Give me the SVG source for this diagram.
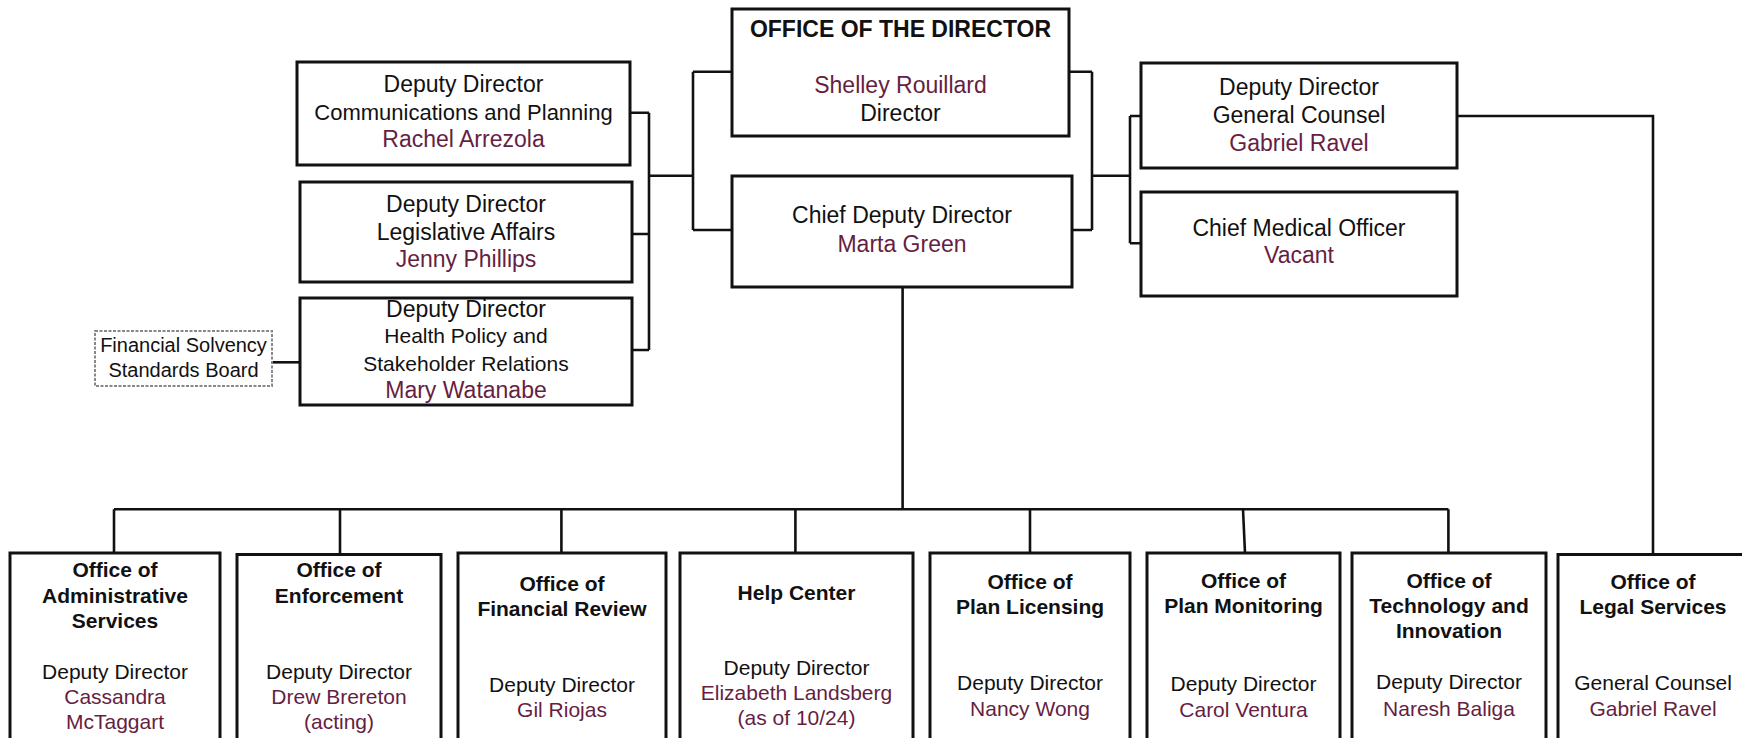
<svg xmlns="http://www.w3.org/2000/svg" width="1742" height="738" viewBox="0 0 1742 738">
<style>
.box{fill:#fff;stroke:#111;stroke-width:3}
.dash{fill:#fff;stroke:#888;stroke-width:2;stroke-dasharray:3 1.5}
.con{fill:none;stroke:#111;stroke-width:2.6}
text{font-family:"Liberation Sans",Arial,sans-serif;text-anchor:middle;fill:#111}
.t{font-size:23px}
.t2{font-size:22px}
.s{font-size:21px}
.f{font-size:20px}
.b{font-size:23px;font-weight:bold}
.bb{font-size:21px;font-weight:bold}
.n{fill:#661e42}
</style>
<rect width="1742" height="738" fill="#fff"/>
<g id="connectors">
<path class="con" d="M272,362.3H300"/>
<path class="con" d="M630,112.7H649M632,234H649M632,350H649M649,112.7V350M649,175.7H693M693,71.7V230M693,71.7H732M693,230H732"/>
<path class="con" d="M1069,71.7H1092M1072,230H1092M1092,71.7V230M1092,175.7H1130M1130,116V243.3M1130,116H1141M1130,243.3H1141"/>
<path class="con" d="M1457,116H1653V554"/>
<path class="con" d="M902.6,287V509.3M114,509.3H1448.4"/>
<path class="con" d="M114,509.3V553M340,509.3V554M561.4,509.3V553M795.4,509.3V553M1030,509.3V553M1243,509.3L1245,553M1448.4,509.3V553"/>
</g>
<g id="fssb">
<rect class="dash" x="95" y="331" width="177" height="55"/>
<text class="f" x="183.5" y="352.3">Financial Solvency</text>
<text class="f" x="183.5" y="376.7">Standards Board</text>
</g>
<g id="dd-comm">
<rect class="box" x="297" y="62" width="333" height="103"/>
<text class="t" x="463.5" y="91.7">Deputy Director</text>
<text class="t2" x="463.5" y="120">Communications and Planning</text>
<text class="t n" x="463.5" y="146.7">Rachel Arrezola</text>
</g>
<g id="dd-leg">
<rect class="box" x="300" y="182" width="332" height="100"/>
<text class="t" x="466" y="212">Deputy Director</text>
<text class="t" x="466" y="240">Legislative Affairs</text>
<text class="t n" x="466" y="266.7">Jenny Phillips</text>
</g>
<g id="dd-health">
<rect class="box" x="300" y="298" width="332" height="107"/>
<text class="t" x="466" y="316.7">Deputy Director</text>
<text class="s" x="466" y="343.3">Health Policy and</text>
<text class="s" x="466" y="370.7">Stakeholder Relations</text>
<text class="t n" x="466" y="398.3">Mary Watanabe</text>
</g>
<g id="director">
<rect class="box" x="732" y="9" width="337" height="127"/>
<text class="b" x="900.5" y="37.3">OFFICE OF THE DIRECTOR</text>
<text class="t n" x="900.5" y="93.3">Shelley Rouillard</text>
<text class="t" x="900.5" y="121">Director</text>
</g>
<g id="chief-deputy">
<rect class="box" x="732" y="176" width="340" height="111"/>
<text class="t" x="902" y="223.3">Chief Deputy Director</text>
<text class="t n" x="902" y="251.7">Marta Green</text>
</g>
<g id="dd-counsel">
<rect class="box" x="1141" y="63" width="316" height="105"/>
<text class="t" x="1299" y="95">Deputy Director</text>
<text class="t" x="1299" y="122.7">General Counsel</text>
<text class="t n" x="1299" y="150.7">Gabriel Ravel</text>
</g>
<g id="cmo">
<rect class="box" x="1141" y="192" width="316" height="104"/>
<text class="t" x="1299" y="235.7">Chief Medical Officer</text>
<text class="t n" x="1299" y="263.3">Vacant</text>
</g>
<g id="admin">
<rect class="box" x="10" y="553" width="210" height="210"/>
<text class="bb" x="115" y="577.3">Office of</text>
<text class="bb" x="115" y="602.7">Administrative</text>
<text class="bb" x="115" y="628">Services</text>
<text class="s" x="115" y="678.7">Deputy Director</text>
<text class="s n" x="115" y="704">Cassandra</text>
<text class="s n" x="115" y="729">McTaggart</text>
</g>
<g id="enforcement">
<rect class="box" x="237" y="554.5" width="204" height="210"/>
<text class="bb" x="339" y="577.3">Office of</text>
<text class="bb" x="339" y="602.7">Enforcement</text>
<text class="s" x="339" y="678.7">Deputy Director</text>
<text class="s n" x="339" y="704">Drew Brereton</text>
<text class="s n" x="339" y="729">(acting)</text>
</g>
<g id="financial-review">
<rect class="box" x="458" y="553" width="208" height="210"/>
<text class="bb" x="562" y="590.7">Office of</text>
<text class="bb" x="562" y="616">Financial Review</text>
<text class="s" x="562" y="691.7">Deputy Director</text>
<text class="s n" x="562" y="716.7">Gil Riojas</text>
</g>
<g id="help-center">
<rect class="box" x="680" y="553" width="233" height="210"/>
<text class="bb" x="796.5" y="600">Help Center</text>
<text class="s" x="796.5" y="675">Deputy Director</text>
<text class="s n" x="796.5" y="700">Elizabeth Landsberg</text>
<text class="s n" x="796.5" y="725">(as of 10/24)</text>
</g>
<g id="plan-licensing">
<rect class="box" x="930" y="553" width="200" height="210"/>
<text class="bb" x="1030" y="589.3">Office of</text>
<text class="bb" x="1030" y="614.3">Plan Licensing</text>
<text class="s" x="1030" y="690">Deputy Director</text>
<text class="s n" x="1030" y="716">Nancy Wong</text>
</g>
<g id="plan-monitoring">
<rect class="box" x="1147" y="553" width="193" height="210"/>
<text class="bb" x="1243.5" y="588.3">Office of</text>
<text class="bb" x="1243.5" y="613.3">Plan Monitoring</text>
<text class="s" x="1243.5" y="690.7">Deputy Director</text>
<text class="s n" x="1243.5" y="716.7">Carol Ventura</text>
</g>
<g id="technology">
<rect class="box" x="1352" y="553" width="194" height="210"/>
<text class="bb" x="1449" y="588.3">Office of</text>
<text class="bb" x="1449" y="613.3">Technology and</text>
<text class="bb" x="1449" y="638.3">Innovation</text>
<text class="s" x="1449" y="689.3">Deputy Director</text>
<text class="s n" x="1449" y="716">Naresh Baliga</text>
</g>
<g id="legal">
<rect class="box" x="1558" y="554.5" width="192" height="210"/>
<text class="bb" x="1653" y="589.3">Office of</text>
<text class="bb" x="1653" y="614.3">Legal Services</text>
<text class="s" x="1653" y="690">General Counsel</text>
<text class="s n" x="1653" y="716">Gabriel Ravel</text>
</g>
</svg>
